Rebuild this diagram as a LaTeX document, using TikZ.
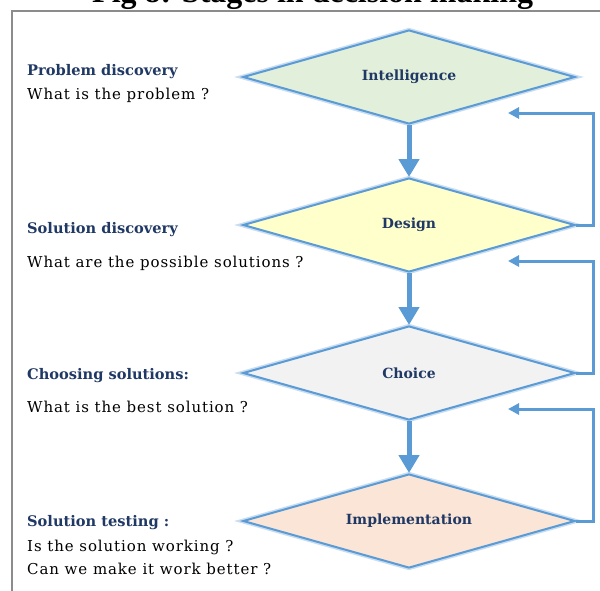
\documentclass[tikz,border=0pt]{standalone}
\usepackage{fontspec}
\setmainfont{DejaVu Serif}
\newfontfamily\titlefont{Liberation Serif}
\newfontfamily\bodyfont[LetterSpace=6]{DejaVu Serif}
\usetikzlibrary{arrows.meta, positioning}
\usetikzlibrary{shapes.geometric}
\definecolor{flowblue}{HTML}{5B9BD5}
\definecolor{glowblue}{HTML}{C9DDF1}
\definecolor{headnavy}{HTML}{1F3864}
\definecolor{framegray}{HTML}{8C8C8C}
\definecolor{intelgreen}{HTML}{E2EFDA}
\definecolor{designyellow}{HTML}{FFFFCC}
\definecolor{choicegray}{HTML}{F2F2F2}
\definecolor{implpeach}{HTML}{FBE5D6}

\begin{document}
\begin{tikzpicture}[x=1pt, y=-1pt, >={Triangle[width=20pt, length=18pt]},
        stage/.style={diamond, aspect=3.5, draw=flowblue, line width=2pt,
            preaction={draw=glowblue, line width=5pt},
            minimum width=332pt, minimum height=94pt, inner sep=0pt,
            text=headnavy, font=\fontsize{14}{16}\selectfont\bfseries},
        flow/.style={draw=flowblue, line width=5pt, ->},
        loopback/.style={draw=flowblue, line width=3pt, -{Triangle[width=11pt, length=11pt]}},
        heading/.style={anchor=base west, inner sep=0pt, text=headnavy,
            font=\fontsize{14.6}{16}\selectfont\bfseries},
        question/.style={anchor=base west, inner sep=0pt,
            font=\bodyfont\fontsize{15}{18}\selectfont}]
        \clip (0,0) rectangle (600,590);
        % frame and cut title
        \draw[framegray, line width=2pt] (12,11) rectangle (640,640);
        \node[anchor=base west, inner sep=0pt, font=\titlefont\fontsize{32}{32}\selectfont\bfseries] (title) at (92,2) {Fig 8: Stages in decision making};
        % stages
        \node[stage, fill=intelgreen] (intel) at (409,77) {Intelligence};
        \node[stage, fill=designyellow, below=52pt of intel] (design) {Design};
        \node[stage, fill=choicegray, below=52pt of design] (choice) {Choice};
        \node[stage, fill=implpeach, below=52pt of choice] (impl) {Implementation};
        \draw[flow] (intel.south) -- (design.north);
        \draw[flow] (design.south) -- (choice.north);
        \draw[flow] (choice.south) -- (impl.north);
        % feedback
        \coordinate (back1) at (508,113);
        \coordinate (back2) at (508,261);
        \coordinate (back3) at (508,409);
        \draw[loopback] (design.east) -- ++(17,0) |- (back1);
        \draw[loopback] (choice.east) -- ++(17,0) |- (back2);
        \draw[loopback] (impl.east) -- ++(17,0) |- (back3);
        % left texts
        \node[heading] (probhead) at (27,75) {Problem discovery};
        \node[question] (probq) at (27,99) {What is the problem ?};
        \node[heading] (solhead) at (27,233) {Solution discovery};
        \node[question] (solq) at (27,267) {What are the possible solutions ?};
        \node[heading] (choohead) at (27,379) {Choosing solutions:};
        \node[question] (chooq) at (27,412) {What is the best solution ?};
        \node[heading] (testhead) at (27,526) {Solution testing :};
        \node[question] (testqa) at (27,551) {Is the solution working ?};
        \node[question] (testqb) at (27,574) {Can we make it work better ?};
\end{tikzpicture}
\end{document}
